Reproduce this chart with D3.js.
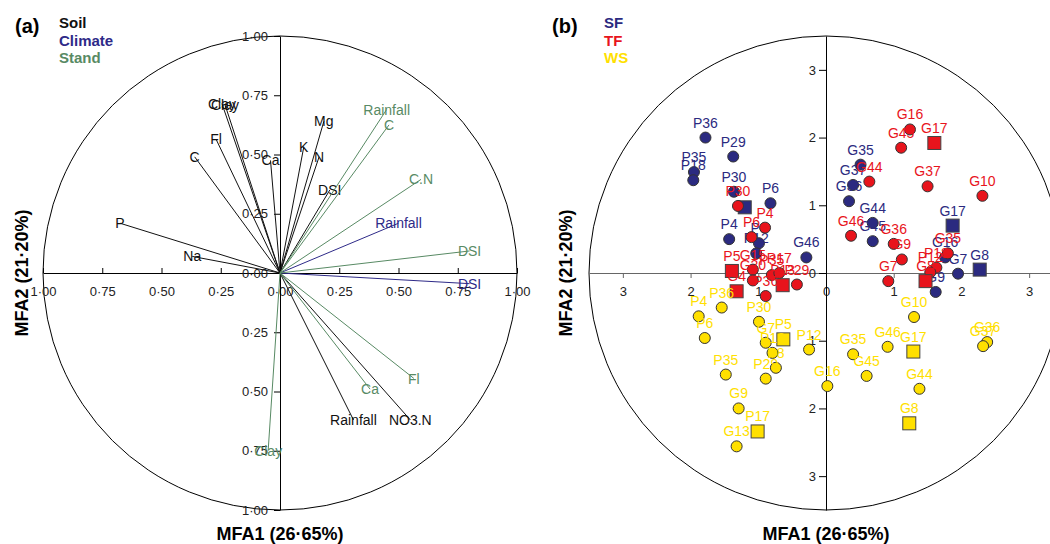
<!DOCTYPE html>
<html>
<head>
<meta charset="utf-8">
<script src="https://cdn.jsdelivr.net/npm/d3@7"></script>
<style>
body { margin: 0; background: #fff; }
svg { font-family: Arial, "Liberation Sans", sans-serif; }
</style>
</head>
<body>
<div id="chart"></div>
<script>
// ---- panel (a) data: correlation circle ----
var soilVars = ["Clay", "Clay", "Fl", "C", "P", "Na", "Ca", "Mg", "K", "N", "DSI", "Rainfall", "NO3.N"];
var soilX = [-0.245, -0.232, -0.27, -0.36, -0.675, -0.37, -0.04, 0.185, 0.10, 0.165, 0.21, 0.31, 0.55];
var soilY = [0.715, 0.71, 0.565, 0.49, 0.21, 0.07, 0.475, 0.64, 0.53, 0.49, 0.35, -0.62, -0.62];

var climateVars = ["Rainfall", "DSI"];
var climateX = [0.50, 0.80];
var climateY = [0.21, -0.045];

var standVars = ["Rainfall", "C", "C.N", "DSI", "Fl", "Ca", "Clay"];
var standX = [0.45, 0.46, 0.595, 0.80, 0.565, 0.38, -0.05];
var standY = [0.69, 0.625, 0.395, 0.093, -0.445, -0.49, -0.75];

var ticksA = [-1, -0.75, -0.5, -0.25, 0, 0.25, 0.5, 0.75, 1];

// ---- panel (b) data: sites ----
var sfLabels = ["P36", "P29", "P35", "P18", "P30", "P6", "P4", "P8", "P12", "G46", "G35", "G37", "G36", "G44", "G45", "G16", "G7", "G9"];
var sfX = [-1.78, -1.37, -1.95, -1.96, -1.36, -0.82, -1.43, -0.99, -1.03, -0.29, 0.51, 0.40, 0.34, 0.69, 0.69, 1.76, 1.95, 1.62];
var sfY = [2.00, 1.72, 1.49, 1.37, 1.20, 1.03, 0.50, 0.44, 0.29, 0.23, 1.60, 1.30, 1.06, 0.74, 0.47, 0.23, -0.01, -0.28];
var sfSqLabels = ["", "G17", "G8"];
var sfSqX = [-1.20, 1.87, 2.27];
var sfSqY = [0.97, 0.70, 0.05];

var tfLabels = ["P30", "P4", "P6", "G15", "G20", "P35", "P17", "P29", "P36", "G44", "G46", "G45", "G16", "G37", "G10", "G36", "G9", "G7", "G35", "P18", "P12"];
var tfX = [-1.30, -0.90, -1.10, -1.08, -1.08, -0.80, -0.69, -0.43, -0.89, 0.64, 0.37, 1.11, 1.24, 1.50, 2.31, 1.00, 1.12, 0.92, 1.80, 1.63, 1.54];
var tfY = [0.99, 0.67, 0.53, 0.05, -0.11, -0.03, 0.00, -0.17, -0.34, 1.35, 0.55, 1.85, 2.12, 1.28, 1.14, 0.43, 0.20, -0.12, 0.29, 0.08, 0.01];
var tfSqLabels = ["P5", "G4", "P13", "G17", "G8"];
var tfSqX = [-1.39, -1.32, -0.64, 1.60, 1.47];
var tfSqY = [0.03, -0.27, -0.18, 1.92, -0.12];

var wsLabels = ["P4", "P36", "P6", "P30", "G7", "P18", "P8", "P29", "P35", "G9", "G13", "P12", "G16", "G35", "G45", "G46", "G10", "G44", "G36", "G37"];
var wsX = [-1.88, -1.54, -1.79, -0.99, -0.89, -0.79, -0.74, -0.89, -1.48, -1.29, -1.32, -0.25, 0.02, 0.40, 0.60, 0.91, 1.30, 1.38, 2.38, 2.32];
var wsY = [-0.64, -0.51, -0.96, -0.72, -1.03, -1.18, -1.40, -1.56, -1.50, -2.00, -2.56, -1.13, -1.67, -1.20, -1.52, -1.09, -0.65, -1.71, -1.02, -1.08];
var wsSqLabels = ["P5", "P17", "G17", "G8"];
var wsSqX = [-0.63, -1.01, 1.29, 1.23];
var wsSqY = [-0.98, -2.34, -1.16, -2.22];

var ticksB = [-3, -2, -1, 0, 1, 2, 3];

// colours
var soilCol = "#111", climateCol = "#2e2a88", standCol = "#588a64";
var sfCol = "#2b2a80", tfCol = "#e8141c", wsCol = "#ffe000";

var svgWidth = 1050, svgHeight = 544;
var R = 237;

var svg = d3.select("#chart").append("svg")
    .attr("width", svgWidth)
    .attr("height", svgHeight);

// ================= panel (a) =================
var xA = d3.scaleLinear().domain([-1, 1]).range([280 - R, 280 + R]);
var yA = d3.scaleLinear().domain([-1, 1]).range([273 + R, 273 - R]);

function fmtA(d) { return d3.format(".2f")(Math.abs(d)).replace(".", "·"); }

var gA = svg.append("g");

gA.append("circle")
    .attr("cx", xA(0)).attr("cy", yA(0))
    .attr("r", xA(1) - xA(0))
    .attr("fill", "none").attr("stroke", "#000");

var xAxisA = gA.append("g")
    .attr("transform", `translate(0,${yA(0)})`)
    .call(d3.axisBottom(xA).tickValues(ticksA).tickFormat(fmtA)
        .tickSizeInner(-5).tickSizeOuter(0).tickPadding(14));

var yAxisA = gA.append("g")
    .attr("transform", `translate(${xA(0)},0)`)
    .call(d3.axisLeft(yA).tickValues(ticksA).tickFormat(fmtA)
        .tickSizeInner(6).tickSizeOuter(0).tickPadding(6));

[xAxisA, yAxisA].forEach(function(g) {
    g.attr("color", "#000").attr("font-family", null);
    g.selectAll("text").attr("font-size", 13).attr("fill", "#222");
});

function drawVectors(names, xs, ys, col) {
    var rows = names.map(function(n, i) { return { name: n, x: xs[i], y: ys[i] }; });
    gA.selectAll(null).data(rows).enter().append("line")
        .attr("x1", xA(0)).attr("y1", yA(0))
        .attr("x2", d => xA(d.x)).attr("y2", d => yA(d.y))
        .attr("stroke", col).attr("stroke-width", 1);
    gA.selectAll(null).data(rows).enter().append("text")
        .attr("x", d => xA(d.x)).attr("y", d => yA(d.y))
        .attr("dy", "0.36em")
        .attr("text-anchor", "middle")
        .attr("font-size", 14)
        .attr("fill", col)
        .text(d => d.name);
}
drawVectors(soilVars, soilX, soilY, soilCol);
drawVectors(climateVars, climateX, climateY, climateCol);
drawVectors(standVars, standX, standY, standCol);

gA.append("text").attr("x", 15).attr("y", 33)
    .attr("font-size", 20).attr("font-weight", "bold").text("(a)");
var legA = [["Soil", soilCol], ["Climate", climateCol], ["Stand", standCol]];
legA.forEach(function(l, i) {
    gA.append("text").attr("x", 59).attr("y", 28 + i * 17.5)
        .attr("font-size", 15).attr("font-weight", "bold")
        .attr("fill", l[1]).text(l[0]);
});

gA.append("text").attr("x", 280).attr("y", 540)
    .attr("text-anchor", "middle").attr("font-size", 18).attr("font-weight", "bold")
    .text("MFA1 (26·65%)");
gA.append("text").attr("transform", "translate(28,273) rotate(-90)")
    .attr("text-anchor", "middle").attr("font-size", 18).attr("font-weight", "bold")
    .text("MFA2 (21·20%)");

// ================= panel (b) =================
var xB = d3.scaleLinear().domain([-3.5, 3.5]).range([826 - R, 826 + R]);
var yB = d3.scaleLinear().domain([-3.5, 3.5]).range([273 + R, 273 - R]);

var gB = svg.append("g");

gB.append("circle")
    .attr("cx", xB(0)).attr("cy", yB(0))
    .attr("r", xB(3.5) - xB(0))
    .attr("fill", "none").attr("stroke", "#000");

var xAxisB = gB.append("g")
    .attr("transform", `translate(0,${yB(0)})`)
    .call(d3.axisBottom(xB).tickValues(ticksB).tickFormat(d => Math.abs(d))
        .tickSizeInner(5).tickSizeOuter(0).tickPadding(9));
var yAxisB = gB.append("g")
    .attr("transform", `translate(${xB(0)},0)`)
    .call(d3.axisLeft(yB).tickValues(ticksB).tickFormat(d => Math.abs(d))
        .tickSizeInner(7).tickSizeOuter(0).tickPadding(3));
xAxisB.attr("color", "#666");
yAxisB.attr("color", "#000");
[xAxisB, yAxisB].forEach(function(g) {
    g.attr("font-family", null);
    g.selectAll("text").attr("font-size", 13).attr("fill", "#222");
});

function drawGroup(labels, xs, ys, sqLabels, sqX, sqY, col) {
    var pts = labels.map(function(n, i) { return { name: n, x: xs[i], y: ys[i] }; });
    var sqs = sqLabels.map(function(n, i) { return { name: n, x: sqX[i], y: sqY[i] }; });
    var g = gB.append("g");
    g.selectAll(null).data(pts).enter().append("circle")
        .attr("cx", d => xB(d.x)).attr("cy", d => yB(d.y))
        .attr("r", 5.5)
        .attr("fill", col).attr("stroke", "#333").attr("stroke-width", 1);
    g.selectAll(null).data(sqs).enter().append("rect")
        .attr("x", d => xB(d.x) - 6.5).attr("y", d => yB(d.y) - 6.5)
        .attr("width", 13).attr("height", 13)
        .attr("fill", col).attr("stroke", "#444").attr("stroke-width", 1);
    g.selectAll(null).data(pts.concat(sqs)).enter().append("text")
        .attr("x", d => xB(d.x)).attr("y", d => yB(d.y) - 10)
        .attr("text-anchor", "middle")
        .attr("font-size", 14)
        .attr("fill", col)
        .text(d => d.name);
}
drawGroup(sfLabels, sfX, sfY, sfSqLabels, sfSqX, sfSqY, sfCol);
drawGroup(tfLabels, tfX, tfY, tfSqLabels, tfSqX, tfSqY, tfCol);
drawGroup(wsLabels, wsX, wsY, wsSqLabels, wsSqX, wsSqY, wsCol);

gB.append("text").attr("x", 552).attr("y", 33)
    .attr("font-size", 20).attr("font-weight", "bold").text("(b)");
var legB = [["SF", sfCol], ["TF", tfCol], ["WS", wsCol]];
legB.forEach(function(l, i) {
    gB.append("text").attr("x", 604).attr("y", 28 + i * 17.5)
        .attr("font-size", 15).attr("font-weight", "bold")
        .attr("fill", l[1]).text(l[0]);
});

gB.append("text").attr("x", 826).attr("y", 540)
    .attr("text-anchor", "middle").attr("font-size", 18).attr("font-weight", "bold")
    .text("MFA1 (26·65%)");
gB.append("text").attr("transform", "translate(572,273) rotate(-90)")
    .attr("text-anchor", "middle").attr("font-size", 18).attr("font-weight", "bold")
    .text("MFA2 (21·20%)");
</script>
</body>
</html>
